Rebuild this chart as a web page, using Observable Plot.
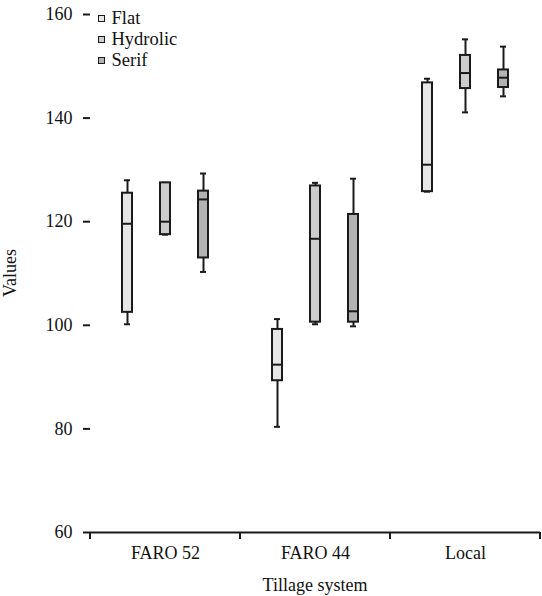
<!DOCTYPE html>
<html>
<head>
<meta charset="utf-8">
<script src="https://cdn.jsdelivr.net/npm/d3@7"></script>
<script src="https://cdn.jsdelivr.net/npm/@observablehq/plot@0.6"></script>
<style>
  body { margin: 0; background: #fff; }
  #wrap { position: relative; width: 542px; height: 596px; font-family: "Liberation Serif", "Times New Roman", Times, serif; }
  #legend { position: absolute; left: 98px; top: 8px; font-size: 18.5px; line-height: 21px; color: #111; font-family: "Liberation Serif", "Times New Roman", Times, serif; }
  #legend .row { display: flex; align-items: center; white-space: nowrap; }
  #legend .sw { width: 4.5px; height: 4.5px; border: 1.6px solid #1a1a1a; margin-right: 7px; }
  svg text { font-family: "Liberation Serif", "Times New Roman", Times, serif !important; }
</style>
</head>
<body>
<div id="wrap"><div id="legend"></div></div>
<script>
const categories = ["FARO 52", "FARO 44", "Local"];
const series = ["Flat", "Hydrolic", "Serif"];
const colors = ["#e6e6e6", "#cccccc", "#b3b3b3"];
const yTicks = [60, 80, 100, 120, 140, 160];
// per category, per series (Flat, Hydrolic, Serif)
const whiskerLow  = [[100.2, 117.5, 110.3], [80.4, 100.2, 99.8], [125.8, 141.1, 144.2]];
const q1          = [[102.5, 117.5, 113.0], [89.3, 100.6, 100.6], [125.8, 145.7, 145.9]];
const median      = [[119.6, 120.0, 124.3], [92.4, 116.7, 102.7], [131.0, 148.7, 147.8]];
const q3          = [[125.5, 127.5, 125.9], [99.2, 126.9, 121.4], [146.8, 152.1, 149.3]];
const whiskerHigh = [[128.0, 127.5, 129.3], [101.2, 127.5, 128.3], [147.6, 155.2, 153.8]];

const rows = [];
categories.forEach((c, i) => series.forEach((s, j) => rows.push({
  cat: c, ser: s, lo: whiskerLow[i][j], q1: q1[i][j], med: median[i][j], q3: q3[i][j], hi: whiskerHigh[i][j]
})));

const serif = "'Liberation Serif', 'Times New Roman', Times, serif";
const stroke = "#1a1a1a";
const plot = Plot.plot({
  width: 542,
  height: 596,
  marginLeft: 89,
  marginRight: 1,
  marginTop: 14,
  marginBottom: 64,
  style: { fontFamily: serif, fontSize: "18px", color: "#111", background: "transparent" },
  fx: { domain: categories, padding: 0, label: null },
  x: { domain: series, paddingInner: 0.744, paddingOuter: 0.804, axis: null },
  y: { domain: [60, 160], label: null },
  color: { domain: series, range: colors },
  marks: [
    Plot.axisY({ ticks: yTicks, tickSize: 7, tickPadding: 11, strokeWidth: 2, stroke: stroke, line: true, label: null, fill: "#111", fontSize: 18 }),
    Plot.axisFx({ anchor: "bottom", tickSize: 0, tickPadding: 14, label: null, fill: "#111", fontSize: 18 }),
    Plot.ruleY([60], { strokeWidth: 2, stroke: stroke }),
    Plot.ruleX(rows, { fx: "cat", x: "ser", y1: "lo", y2: "hi", stroke: stroke, strokeWidth: 2 }),
    Plot.tickY(rows, { fx: "cat", x: "ser", y: "lo", stroke: stroke, strokeWidth: 2, insetLeft: 2, insetRight: 2 }),
    Plot.tickY(rows, { fx: "cat", x: "ser", y: "hi", stroke: stroke, strokeWidth: 2, insetLeft: 2, insetRight: 2 }),
    Plot.barY(rows, { fx: "cat", x: "ser", y1: "q1", y2: "q3", fill: "ser", stroke: stroke, strokeWidth: 2 }),
    Plot.tickY(rows, { fx: "cat", x: "ser", y: "med", stroke: stroke, strokeWidth: 2 })
  ]
});
document.getElementById("wrap").appendChild(plot);

// category boundary ticks below the x axis, from the fx scale
const fx = plot.scale("fx");
const ys = plot.scale("y");
const svg = d3.select(plot);
const y0 = ys.apply(60);
const bounds = categories.map(c => fx.apply(c)).concat([fx.apply(categories[categories.length - 1]) + fx.bandwidth]);
svg.append("g").selectAll("line").data(bounds).join("line")
  .attr("x1", d => d).attr("x2", d => d).attr("y1", y0).attr("y2", y0 + 7)
  .attr("stroke", stroke).attr("stroke-width", 2);

// axis titles
svg.append("text").attr("transform", `translate(16,${(ys.apply(60) + ys.apply(160)) / 2}) rotate(-90)`)
  .attr("text-anchor", "middle").attr("fill", "#111").style("font-size", "18px").text("Values");
svg.append("text").attr("x", (bounds[0] + bounds[bounds.length - 1]) / 2).attr("y", 591)
  .attr("text-anchor", "middle").attr("fill", "#111").style("font-size", "18px").text("Tillage system");

// legend
const lg = d3.select("#legend");
series.forEach((s, i) => {
  const r = lg.append("div").attr("class", "row");
  r.append("div").attr("class", "sw").style("background", colors[i]);
  r.append("span").text(s);
});
</script>
</body>
</html>
